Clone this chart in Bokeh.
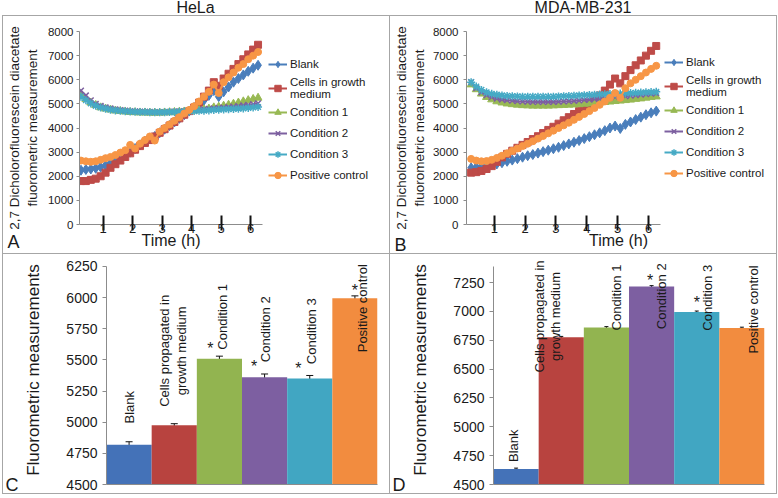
import numpy as np
from bokeh.plotting import figure
from bokeh.models import (Legend, LegendItem, FixedTicker, SingleIntervalTicker, Title,
                          Whisker, TeeHead, Div, Range1d, ColumnDataSource)
from bokeh.layouts import column, row
from bokeh.embed import file_html
from bokeh.resources import INLINE
from bokeh.core.properties import value

FONT = "Liberation Sans"

# ---------------------------------------------------------------- data
minutes = [15, 25, 35, 45, 55, 65, 75, 85, 95, 105, 115, 125, 135, 145, 155, 165, 175, 185,
           195, 205, 215, 225, 235, 245, 255, 265, 275, 285, 295, 305, 315, 325, 335, 345,
           355, 365, 375]
time_ticks = [1, 2, 3, 4, 5, 6]
series_names = ["Blank", "Cells in growth\nmedium", "Condition 1", "Condition 2",
                "Condition 3", "Positive control"]

hela_blank = [2250, 2280, 2300, 2330, 2380, 2450, 2550, 2650, 2750, 2880,
              3000, 3150, 3300, 3450, 3550, 3650, 3800, 3950, 4100, 4250,
              4400, 4550, 4700, 4850, 5000, 5150, 5350, 5550, 5300, 5500,
              5700, 5900, 6050, 6200, 6350, 6480, 6600]
hela_cells = [1800, 1800, 1850, 1900, 2000, 2150, 2350, 2500, 2650, 2800,
              2950, 3100, 3250, 3380, 3500, 3650, 3800, 3950, 4100, 4250,
              4400, 4550, 4700, 4850, 5050, 5300, 5550, 5900, 5750, 6050,
              6250, 6450, 6650, 6850, 7050, 7250, 7450]
hela_cond1 = [5400, 5200, 5050, 4950, 4850, 4800, 4760, 4720, 4700, 4680,
              4660, 4650, 4640, 4640, 4630, 4630, 4630, 4640, 4650, 4660,
              4670, 4680, 4700, 4720, 4740, 4770, 4800, 4850, 4880, 4920,
              4960, 5000, 5050, 5100, 5150, 5200, 5250]
hela_cond2 = [5550, 5350, 5150, 5000, 4920, 4860, 4810, 4770, 4740, 4720,
              4700, 4690, 4680, 4670, 4670, 4660, 4660, 4660, 4670, 4680,
              4690, 4700, 4710, 4730, 4750, 4770, 4790, 4810, 4830, 4850,
              4870, 4890, 4910, 4940, 4960, 4990, 5020]
hela_cond3 = [5300, 5150, 5020, 4920, 4850, 4800, 4760, 4730, 4710, 4690,
              4680, 4670, 4660, 4660, 4650, 4650, 4650, 4650, 4660, 4660,
              4670, 4680, 4690, 4700, 4710, 4720, 4730, 4750, 4760, 4770,
              4780, 4790, 4800, 4810, 4830, 4850, 4870]
hela_pos = [2650, 2620, 2600, 2620, 2680, 2750, 2800, 2880, 2980, 3080,
            3300, 3150, 3350, 3500, 3650, 3480, 3850, 4000, 4150, 4300,
            4450, 4600, 4750, 4900, 5100, 5300, 5500, 5800, 5450, 5900,
            6100, 6300, 6500, 6650, 6850, 7000, 7150]

mda_blank = [2350, 2380, 2400, 2430, 2470, 2510, 2560, 2620, 2670, 2730,
             2790, 2850, 2900, 2960, 3020, 3080, 3140, 3200, 3270, 3340,
             3410, 3480, 3560, 3640, 3720, 3800, 3890, 4000, 4080, 3980,
             4150, 4250, 4350, 4450, 4550, 4630, 4700]
mda_cells = [2150, 2170, 2220, 2300, 2420, 2600, 2780, 2930, 3060, 3180,
             3300, 3420, 3540, 3660, 3790, 3920, 4050, 4180, 4320, 4450,
             4580, 4700, 4850, 4980, 5150, 5350, 5550, 5800, 6050, 5850,
             6150, 6400, 6600, 6800, 7000, 7200, 7400]
mda_cond1 = [5800, 5600, 5420, 5280, 5180, 5100, 5050, 5010, 4980, 4960,
             4940, 4930, 4920, 4920, 4920, 4920, 4930, 4940, 4950, 4960,
             4970, 4980, 5000, 5010, 5030, 5050, 5070, 5090, 5110, 5130,
             5150, 5170, 5200, 5220, 5250, 5280, 5300]
mda_cond2 = [5900, 5650, 5480, 5360, 5280, 5220, 5180, 5150, 5130, 5110,
             5100, 5090, 5080, 5080, 5080, 5080, 5080, 5090, 5100, 5110,
             5120, 5140, 5160, 5180, 5200, 5220, 5240, 5260, 5280, 5300,
             5320, 5340, 5360, 5380, 5400, 5420, 5440]
mda_cond3 = [5900, 5720, 5580, 5480, 5420, 5380, 5350, 5330, 5320, 5310,
             5300, 5300, 5300, 5300, 5300, 5300, 5300, 5310, 5320, 5330,
             5340, 5350, 5360, 5370, 5380, 5390, 5400, 5410, 5420, 5430,
             5440, 5450, 5460, 5470, 5480, 5490, 5500]
mda_pos = [2720, 2650, 2620, 2630, 2680, 2760, 2850, 2950, 3050, 3150,
           3250, 3350, 3450, 3560, 3670, 3780, 3890, 4000, 4110, 4220,
           4340, 4460, 4580, 4700, 4830, 4960, 5100, 5250, 5450, 5250,
           5650, 5850, 6000, 6150, 6300, 6450, 6580]

bar_categories = ["Blank", "Cells propagated in\ngrowth medium", "Condition 1",
                  "Condition 2", "Condition 3", "Positive control"]
hela_bar = [4820, 4975, 5510, 5360, 5350, 5995]
hela_err = [23, 13, 20, 27, 25, 19]
hela_sig = [False, False, True, True, True, True]
hela_tick_values = [4500, 4750, 5000, 5250, 5500, 5750, 6000, 6250]
mda_bar = [4635, 6775, 6860, 7215, 6995, 6855]
mda_err = [7, 8, 8, 8, 8, 8]
mda_sig = [False, False, False, True, True, False]
mda_tick_values = [4500, 4750, 5000, 6250, 6500, 6750, 7000, 7250]

# ---------------------------------------------------------------- styles
line_colors = ["#4A7EBB", "#BE4B48", "#98B954", "#7D60A0", "#46AAC5", "#F79646"]
markers = ["diamond", "square", "triangle", "x", "asterisk", "circle"]
marker_sizes = [10, 7, 8, 8, 8, 7]
bar_colors = ["#4472B8", "#B8433F", "#92B450", "#7D5FA1", "#41A6C2", "#F28C3F"]
RULE = "#a6a6a6"
AXIS_GRAY = "#8c8c8c"
TXT = "#1a1a1a"

hours = [m / 60 for m in minutes]


def base_fig(width, height, left, frame_w, top, frame_h, xr, yr):
    p = figure(width=width, height=height, output_backend="svg", toolbar_location=None,
               x_range=xr, y_range=yr,
               min_border_left=left, min_border_right=width - left - frame_w,
               min_border_top=top, min_border_bottom=height - top - frame_h)
    p.outline_line_color = None
    p.xgrid.visible = False
    p.ygrid.visible = False
    p.background_fill_color = "white"
    p.border_fill_color = "white"
    for ax in (p.xaxis[0], p.yaxis[0]):
        ax.axis_line_color = AXIS_GRAY
        ax.minor_tick_line_color = None
        ax.major_label_text_font = FONT
        ax.major_label_text_color = TXT
        ax.axis_label_text_font = FONT
        ax.axis_label_text_font_style = "normal"
        ax.axis_label_text_color = TXT
    return p


def add_letter(p, text, offset, standoff):
    p.add_layout(Title(text=text, align="left", vertical_align="top", offset=offset,
                       standoff=standoff, text_font=FONT, text_font_size="18px",
                       text_font_style="normal", text_color=TXT), "below")


def line_panel(series, xr, axis_end, left, frame_w, width, tick_standoff, label_standoff,
               legend_side, legend_loc, letter, letter_pos):
    top, frame_h, height = 15, 193, 237
    p = base_fig(width, height, left, frame_w, top, frame_h,
                 Range1d(*xr), Range1d(0, 8000))
    items = []
    for i, vals in enumerate(series):
        src = ColumnDataSource(dict(t=hours, v=vals))
        lr = p.line("t", "v", source=src, line_color=line_colors[i], line_width=2)
        sr = p.scatter("t", "v", source=src, marker=markers[i], size=marker_sizes[i],
                       line_color=line_colors[i], fill_color=line_colors[i],
                       line_width=1.5 if markers[i] in ("x", "asterisk") else 1)
        items.append(LegendItem(label=series_names[i], renderers=[lr, sr]))
    leg = Legend(items=items, location=legend_loc, border_line_color=None,
                 background_fill_alpha=0, padding=0, margin=0, spacing=3,
                 label_height=18, glyph_height=16, glyph_width=19, label_standoff=3,
                 label_text_font=FONT, label_text_font_size="11.5px",
                 label_text_color=TXT, label_text_line_height=1.0)
    if legend_side is None:
        p.add_layout(leg)
    else:
        p.add_layout(leg, legend_side)
    ya = p.yaxis[0]
    ya.ticker = SingleIntervalTicker(interval=1000)
    ya.major_tick_in = 0
    ya.major_tick_out = 3
    ya.major_tick_line_color = AXIS_GRAY
    ya.major_label_standoff = tick_standoff
    ya.major_label_text_font_size = "11.5px"
    ya.axis_label = "2,7 Dicholorofluorescein diacetate\nfluorometric measurement"
    ya.axis_label_text_font_size = "13.5px"
    ya.axis_label_standoff = label_standoff
    xa = p.xaxis[0]
    xa.bounds = (xr[0], axis_end)
    xa.ticker = FixedTicker(ticks=time_ticks)
    xa.major_tick_in = 9
    xa.major_tick_out = 6
    xa.major_tick_line_color = "#111111"
    xa.major_tick_line_width = 2
    xa.major_label_standoff = -7
    xa.major_label_text_font_size = "13px"
    xa.axis_label = "Time (h)"
    xa.axis_label_text_font_size = "16px"
    xa.axis_label_standoff = -4
    add_letter(p, letter, *letter_pos)
    return p


def bar_panel(vals, errs, sig, disp, yr, bounds, ticks, tick_labels, left, frame_w, width,
              label_standoff, lab_dx, lab_dy, star_dx, star_dy, head, letter, letter_pos):
    top, frame_h, height = 1, 229, 239
    p = base_fig(width, height, left, frame_w, top, frame_h,
                 Range1d(-0.5, 5.5), Range1d(*yr))
    idx = list(range(len(vals)))
    dv = [disp(v) for v in vals]
    src = ColumnDataSource(dict(x=idx, top=dv, color=bar_colors,
                                upper=[disp(v + e) for v, e in zip(vals, errs)],
                                lower=[disp(v - e) for v, e in zip(vals, errs)]))
    p.vbar(x="x", top="top", bottom=yr[0], width=1.0, fill_color="color",
           line_color=None, source=src)
    p.add_layout(Whisker(base="x", upper="upper", lower="lower", source=src,
                         line_color="#111111", line_width=1,
                         upper_head=TeeHead(size=head, line_color="#111111"),
                         lower_head=TeeHead(size=head, line_color="#111111")))
    p.text(x=[i + d for i, d in zip(idx, lab_dx)], y=[v + d for v, d in zip(dv, lab_dy)],
           text=bar_categories, angle=np.pi / 2, text_align="center",
           text_baseline="middle", text_font=value(FONT), text_font_size="13px",
           text_color=TXT, text_line_height=1.1)
    sx = [i + star_dx[i] for i in idx if sig[i]]
    sy = [dv[i] + star_dy[i] for i in idx if sig[i]]
    p.text(x=sx, y=sy, text=["*"] * len(sx), text_align="center", text_baseline="middle",
           text_font=value(FONT), text_font_size="16px", text_color=TXT)
    ya = p.yaxis[0]
    ya.bounds = bounds
    ya.ticker = FixedTicker(ticks=ticks)
    ya.major_label_overrides = {t: l for t, l in zip(ticks, tick_labels)}
    ya.major_tick_in = 0
    ya.major_tick_out = 4
    ya.major_tick_line_color = AXIS_GRAY
    ya.major_label_standoff = 5
    ya.major_label_text_font_size = "14px"
    ya.axis_label = "Fluorometric measurements"
    ya.axis_label_text_font_size = "17px"
    ya.axis_label_standoff = label_standoff
    xa = p.xaxis[0]
    xa.ticker = FixedTicker(ticks=[])
    xa.major_tick_line_color = None
    xa.major_tick_out = 0
    xa.major_tick_in = 0
    xa.major_label_standoff = 0
    add_letter(p, letter, *letter_pos)
    return p


def mda_disp(v):
    # broken axis: the band 5000-6250 is cut out of the scale
    return v if v <= 5125 else v - 1000


# ---------------------------------------------------------------- panels
pA = line_panel([hela_blank, hela_cells, hela_cond1, hela_cond2, hela_cond3, hela_pos],
                (0.2, 6.4), 6.4, 73, 186, 386, 2, 5, "right", (6, 40), "A", (-72, -40))
# B: the frame is widened to hold the legend; the x axis line stops at 6.4 h
pB = line_panel([mda_blank, mda_cells, mda_cond1, mda_cond2, mda_cond3, mda_pos],
                (0.1, 0.1 + 6.3 * 305 / 195), 6.4, 75, 305, 386, 4, 3, None, (198, 42),
                "B", (-72, -34))

pC = bar_panel(hela_bar, hela_err, hela_sig, lambda v: v, (4500, 6338), (4500, 6250),
               hela_tick_values, [str(t) for t in hela_tick_values], 103, 271, 386, 20,
               [0, -0.03, 0.07, 0.03, 0.03, 0.17], [300, 598, 336, 386, 380, -80],
               [0, 0, -0.2, -0.23, -0.25, 0.0], [0, 0, 83, 89, 83, 64], 7,
               "C", (-101, -20))

pD = bar_panel(mda_bar, mda_err, mda_sig, mda_disp, (4500, 6484), (4500, 6389),
               [mda_disp(t) for t in mda_tick_values], [str(t) for t in mda_tick_values],
               103, 271, 386, 20,
               [-0.05, -0.3, 0.23, 0.22, 0.23, 0.26], [201, 181, 260, -84, 123, 161],
               [0, 0, 0, -0.03, 0.0, 0], [0, 0, 0, 55, 79, 0], 4,
               "D", (-101, -20))


def vrule(h):
    return Div(width=1, height=h, margin=0, styles={"background-color": RULE})


def hrule(w):
    return Div(width=w, height=1, margin=0, styles={"background-color": RULE})


title_style = {"text-align": "center", "font-size": "16px", "font-family": FONT,
               "line-height": "16px", "color": TXT, "overflow": "visible"}
tA = Div(text="HeLa", width=387, height=15, margin=0, styles=title_style)
tB = Div(text="MDA-MB-231", width=388, height=15, margin=0, styles=title_style)

grid = column(row(tA, tB),
              hrule(775),
              row(vrule(237), pA, vrule(237), pB, vrule(237)),
              hrule(775),
              row(vrule(239), pC, vrule(239), pD, vrule(239)),
              hrule(775))
layout = row(Div(width=2, height=1, margin=0), grid)
open("out.html", "w").write(file_html(layout, INLINE))
